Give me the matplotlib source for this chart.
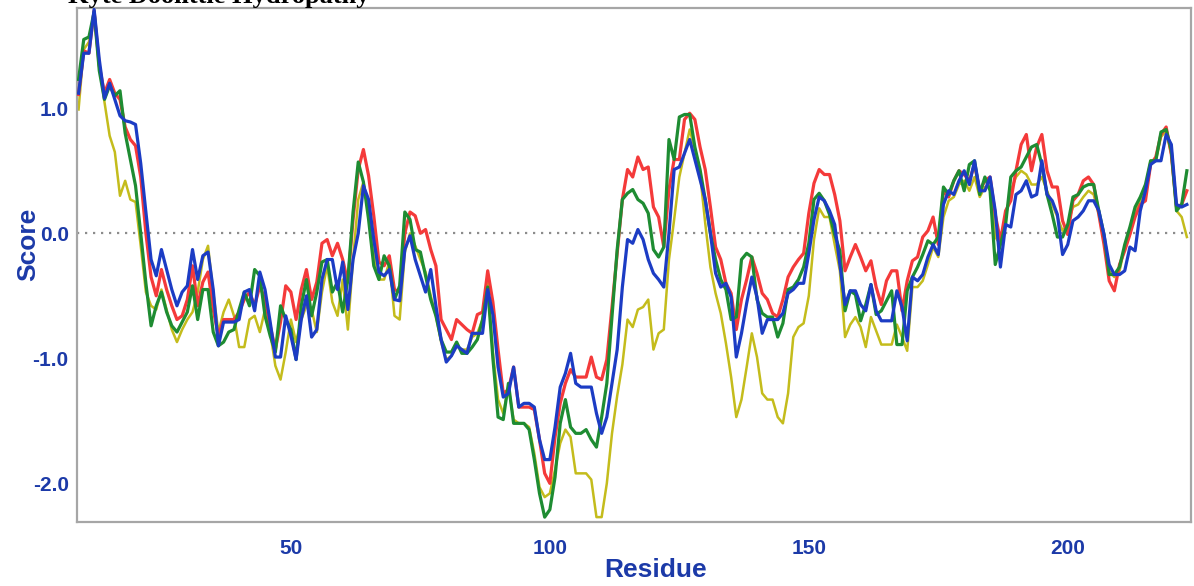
import numpy as np
import matplotlib
matplotlib.use("Agg")
import matplotlib.pyplot as plt

# Kyte-Doolittle scores, one value per residue (window centres 9..223)
residues = np.arange(9, 224)

red_scores = [
    1.11, 1.46, 1.44, 1.78, 1.34, 1.12, 1.23, 1.12, 1.07, 0.85, 0.75, 0.70,
    0.45, 0.00, -0.35, -0.50, -0.29, -0.45, -0.58, -0.69, -0.66, -0.53,
    -0.26, -0.58, -0.39, -0.31, -0.61, -0.82, -0.69, -0.69, -0.69, -0.63,
    -0.53, -0.47, -0.58, -0.42, -0.53, -0.74, -0.93, -0.71, -0.42, -0.47,
    -0.69, -0.45, -0.29, -0.53, -0.39, -0.08, -0.05, -0.18, -0.08, -0.21,
    -0.39, 0.11, 0.51, 0.67, 0.46, 0.14, -0.23, -0.26, -0.18, -0.45,
    -0.47, 0.00, 0.17, 0.14, 0.00, 0.03, -0.13, -0.26, -0.69, -0.77,
    -0.85, -0.69, -0.73, -0.77, -0.80, -0.65, -0.63, -0.30, -0.55, -0.93,
    -1.28, -1.25, -1.07, -1.39, -1.39, -1.39, -1.41, -1.65, -1.92, -2.00,
    -1.63, -1.36, -1.20, -1.09, -1.15, -1.15, -1.15, -0.99, -1.15, -1.17,
    -1.01, -0.59, -0.16, 0.27, 0.51, 0.45, 0.61, 0.51, 0.53, 0.21,
    0.13, -0.11, 0.35, 0.59, 0.59, 0.91, 0.96, 0.91, 0.69, 0.51,
    0.21, -0.11, -0.21, -0.40, -0.48, -0.77, -0.53, -0.37, -0.19, -0.32,
    -0.48, -0.53, -0.64, -0.67, -0.53, -0.35, -0.27, -0.21, -0.16, 0.16,
    0.40, 0.51, 0.47, 0.47, 0.31, 0.10, -0.30, -0.19, -0.09, -0.19,
    -0.30, -0.22, -0.43, -0.57, -0.38, -0.30, -0.30, -0.62, -0.38, -0.22,
    -0.19, -0.03, 0.02, 0.13, -0.09, 0.34, 0.29, 0.42, 0.50, 0.47,
    0.42, 0.55, 0.34, 0.42, 0.45, 0.15, -0.06, 0.18, 0.26, 0.50,
    0.71, 0.79, 0.50, 0.69, 0.79, 0.50, 0.37, 0.37, 0.10, -0.01,
    0.26, 0.31, 0.42, 0.45, 0.39, 0.15, -0.09, -0.38, -0.46, -0.25,
    -0.14, -0.01, 0.13, 0.23, 0.26, 0.55, 0.61, 0.79, 0.85, 0.63,
    0.21, 0.23, 0.34,
]

green_scores = [
    1.23, 1.55, 1.57, 1.77, 1.30, 1.07, 1.18, 1.10, 1.14, 0.80, 0.59, 0.38,
    0.00, -0.40, -0.74, -0.58, -0.47, -0.63, -0.74, -0.79, -0.71, -0.63,
    -0.42, -0.69, -0.45, -0.45, -0.79, -0.90, -0.87, -0.79, -0.77, -0.61,
    -0.47, -0.58, -0.29, -0.34, -0.66, -0.82, -0.95, -0.58, -0.69, -0.77,
    -1.01, -0.58, -0.37, -0.66, -0.47, -0.23, -0.21, -0.47, -0.39, -0.63,
    -0.37, 0.17, 0.57, 0.41, 0.11, -0.26, -0.37, -0.18, -0.26, -0.53,
    -0.42, 0.17, 0.11, -0.13, -0.15, -0.34, -0.53, -0.66, -0.85, -0.95,
    -0.95, -0.87, -0.96, -0.96, -0.91, -0.85, -0.69, -0.43, -1.00, -1.47,
    -1.49, -1.20, -1.52, -1.52, -1.52, -1.57, -1.81, -2.08, -2.27, -2.21,
    -1.95, -1.52, -1.33, -1.55, -1.60, -1.60, -1.57, -1.65, -1.71, -1.47,
    -1.20, -0.67, -0.13, 0.27, 0.32, 0.35, 0.27, 0.24, 0.16, -0.13,
    -0.19, -0.11, 0.75, 0.59, 0.93, 0.95, 0.95, 0.69, 0.51, 0.27,
    0.00, -0.21, -0.37, -0.45, -0.69, -0.67, -0.21, -0.16, -0.19, -0.53,
    -0.64, -0.67, -0.67, -0.83, -0.72, -0.45, -0.43, -0.37, -0.27, -0.08,
    0.27, 0.32, 0.26, 0.15, -0.01, -0.14, -0.62, -0.46, -0.49, -0.70,
    -0.57, -0.41, -0.65, -0.62, -0.54, -0.46, -0.89, -0.89, -0.46, -0.35,
    -0.27, -0.17, -0.06, -0.09, -0.03, 0.37, 0.31, 0.42, 0.50, 0.34,
    0.55, 0.58, 0.31, 0.45, 0.34, -0.25, -0.09, 0.07, 0.45, 0.50,
    0.53, 0.61, 0.69, 0.71, 0.55, 0.31, 0.15, -0.03, -0.03, 0.07,
    0.29, 0.31, 0.37, 0.39, 0.39, 0.18, -0.01, -0.33, -0.33, -0.27,
    -0.09, 0.05, 0.21, 0.29, 0.39, 0.58, 0.58, 0.81, 0.83, 0.66,
    0.18, 0.23, 0.50,
]

blue_scores = [
    1.12, 1.44, 1.44, 1.79, 1.39, 1.08, 1.20, 1.07, 0.94, 0.90, 0.89, 0.87,
    0.56, 0.17, -0.21, -0.34, -0.13, -0.29, -0.45, -0.58, -0.47, -0.42,
    -0.13, -0.37, -0.18, -0.15, -0.45, -0.90, -0.71, -0.71, -0.71, -0.69,
    -0.47, -0.45, -0.62, -0.31, -0.45, -0.71, -0.99, -0.99, -0.66, -0.82,
    -1.01, -0.69, -0.50, -0.83, -0.77, -0.37, -0.21, -0.21, -0.45, -0.23,
    -0.61, -0.21, 0.00, 0.38, 0.27, -0.05, -0.31, -0.34, -0.29, -0.53,
    -0.54, -0.13, -0.02, -0.21, -0.34, -0.47, -0.29, -0.58, -0.85, -1.03,
    -0.98, -0.90, -0.93, -0.96, -0.80, -0.80, -0.80, -0.45, -0.65, -1.07,
    -1.31, -1.28, -1.07, -1.39, -1.36, -1.36, -1.39, -1.65, -1.81, -1.81,
    -1.55, -1.23, -1.12, -0.96, -1.20, -1.23, -1.23, -1.23, -1.44, -1.60,
    -1.47, -1.20, -0.93, -0.43, -0.05, -0.08, 0.03, -0.05, -0.21, -0.32,
    -0.37, -0.43, 0.00, 0.51, 0.53, 0.64, 0.75, 0.59, 0.43, 0.27,
    0.00, -0.32, -0.43, -0.40, -0.51, -0.99, -0.80, -0.56, -0.35, -0.51,
    -0.80, -0.69, -0.69, -0.69, -0.64, -0.48, -0.45, -0.40, -0.40, -0.16,
    0.11, 0.29, 0.26, 0.18, 0.07, -0.25, -0.57, -0.46, -0.46, -0.57,
    -0.62, -0.41, -0.62, -0.70, -0.70, -0.70, -0.46, -0.59, -0.86, -0.35,
    -0.38, -0.33, -0.19, -0.09, -0.17, 0.23, 0.34, 0.31, 0.42, 0.50,
    0.39, 0.58, 0.34, 0.34, 0.45, 0.18, -0.27, 0.07, 0.05, 0.31,
    0.34, 0.42, 0.29, 0.31, 0.58, 0.31, 0.26, 0.15, -0.17, -0.09,
    0.10, 0.13, 0.18, 0.26, 0.26, 0.18, -0.01, -0.25, -0.33, -0.33,
    -0.30, -0.11, -0.14, 0.18, 0.34, 0.55, 0.58, 0.58, 0.79, 0.71,
    0.23, 0.21, 0.23,
]

yellow_scores = [
    0.99, 1.47, 1.53, 1.75, 1.34, 1.05, 0.78, 0.65, 0.30, 0.42, 0.27, 0.25,
    -0.10, -0.47, -0.58, -0.61, -0.45, -0.61, -0.77, -0.87, -0.77, -0.69,
    -0.63, -0.47, -0.21, -0.10, -0.47, -0.79, -0.63, -0.53, -0.66, -0.91,
    -0.91, -0.69, -0.66, -0.79, -0.61, -0.79, -1.06, -1.17, -0.95, -0.69,
    -0.87, -0.69, -0.58, -0.61, -0.79, -0.47, -0.26, -0.55, -0.66, -0.37,
    -0.77, -0.21, 0.27, 0.41, 0.19, -0.15, -0.37, -0.37, -0.23, -0.66,
    -0.69, -0.15, 0.00, -0.10, -0.21, -0.31, -0.50, -0.66, -0.87, -1.01,
    -0.98, -0.90, -0.93, -0.93, -0.83, -0.80, -0.69, -0.40, -0.95, -1.33,
    -1.44, -1.23, -1.49, -1.52, -1.52, -1.55, -1.76, -2.03, -2.11, -2.08,
    -1.89, -1.68, -1.57, -1.63, -1.92, -1.92, -1.92, -1.97, -2.27, -2.27,
    -2.00, -1.60, -1.30, -1.05, -0.69, -0.75, -0.61, -0.59, -0.53, -0.93,
    -0.80, -0.77, -0.21, 0.11, 0.45, 0.64, 0.83, 0.67, 0.48, 0.08,
    -0.27, -0.48, -0.64, -0.88, -1.15, -1.47, -1.33, -1.07, -0.80, -0.99,
    -1.28, -1.33, -1.33, -1.47, -1.52, -1.28, -0.83, -0.75, -0.72, -0.50,
    -0.05, 0.20, 0.13, 0.13, -0.09, -0.30, -0.83, -0.73, -0.67, -0.75,
    -0.91, -0.67, -0.78, -0.89, -0.89, -0.89, -0.73, -0.83, -0.94, -0.43,
    -0.43, -0.38, -0.25, -0.11, -0.19, 0.13, 0.26, 0.29, 0.39, 0.42,
    0.34, 0.45, 0.29, 0.37, 0.37, -0.03, -0.09, 0.13, 0.34, 0.45,
    0.50, 0.47, 0.39, 0.39, 0.45, 0.34, 0.23, 0.13, 0.02, 0.07,
    0.21, 0.23, 0.29, 0.34, 0.31, 0.15, -0.03, -0.30, -0.35, -0.30,
    -0.11, -0.01, 0.18, 0.26, 0.37, 0.58, 0.58, 0.77, 0.82, 0.63,
    0.18, 0.13, -0.03,
]

y_ticks = [1.0, 0.0, -1.0, -2.0]
y_tick_labels = ["1.0", "0.0", "-1.0", "-2.0"]
x_ticks = [50, 100, 150, 200]

label_blue = "#1c3aa8"
sans = ["Liberation Sans", "DejaVu Sans"]

fig = plt.figure(figsize=(11.94, 5.86), dpi=100)
ax = fig.add_axes([0.0645, 0.109, 0.933, 0.877])

ax.axhline(0, color="#8c8c8c", lw=1.6, ls=(0, (1, 2.6)), zorder=1)

ax.plot(residues, yellow_scores, color="#c4bc1c", lw=1.8, zorder=2)
ax.plot(residues, red_scores, color="#f43a3a", lw=2.3, zorder=3)
ax.plot(residues, green_scores, color="#1e8c32", lw=2.3, zorder=4)
ax.plot(residues, blue_scores, color="#1c3cc4", lw=2.3, zorder=5)

ax.set_xlim(8.7, 223.8)
ax.set_ylim(-2.31, 1.8)

ax.set_yticks(y_ticks)
ax.set_yticklabels(y_tick_labels)
ax.set_xticks(x_ticks)
ax.tick_params(length=0, labelcolor=label_blue)
ax.tick_params(axis="y", pad=6)
ax.tick_params(axis="x", pad=12)
for lab in ax.get_xticklabels() + ax.get_yticklabels():
    lab.set_family(sans)
    lab.set_fontweight("bold")
    lab.set_fontsize(15)

for side, sp in ax.spines.items():
    sp.set_color("#a6a6a6")
    sp.set_linewidth(1.6)

ax.set_ylabel("Score", color=label_blue, fontsize=19, fontweight="bold",
              family=sans, va="center")
ax.yaxis.set_label_coords(-0.044, 0.54)
ax.set_xlabel("Residue", color=label_blue, fontsize=19, fontweight="bold",
              family=sans, va="center")
ax.xaxis.set_label_coords(0.519, -0.094)

fig.text(68 / 1194, 1 - 3 / 586, "Kyte Doolittle Hydropathy",
         fontsize=19, fontweight="bold", family=["Liberation Serif", "DejaVu Serif"],
         ha="left", va="baseline", color="black")

fig.savefig("out.png", dpi=100)
